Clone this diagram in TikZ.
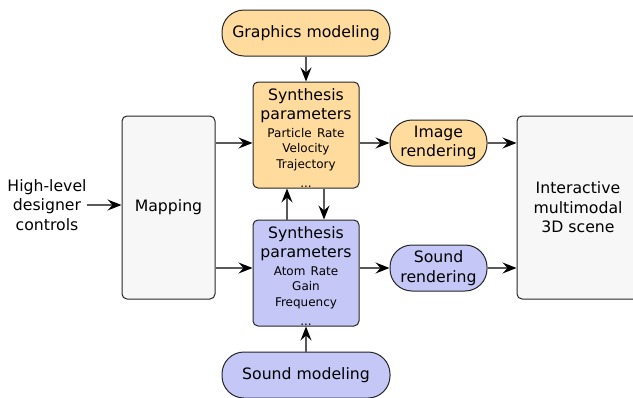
\documentclass[tikz,border=0pt]{standalone}
\usepackage{fontspec}
\setmainfont{DejaVu Sans}
\usetikzlibrary{arrows.meta}
\definecolor{gfxorange}{RGB}{255,219,158}
\definecolor{sndblue}{RGB}{197,199,247}
\definecolor{boxgray}{RGB}{247,247,247}
\newcommand{\bigfont}{\fontsize{15.7}{19.5}\selectfont}
\newcommand{\smallfont}{\fontsize{12}{15.5}\selectfont}

\begin{document}
\begin{tikzpicture}[x=1pt,y=-1pt,
  box/.style={draw=black!85,line width=1pt,rounded corners=5pt,align=center,font=\bigfont,inner sep=0pt},
  pill/.style={box,rounded corners=22pt,minimum height=46},
  synth/.style={box,text width=100,minimum width=106,minimum height=106},
  link/.style={draw=black!65,line width=1.3pt,-{Stealth[length=14pt,width=11pt,inset=5pt,color=black]}}]
%\draw[help lines,step=10] (0,0) grid (633,397);
\useasboundingbox (0,0) rectangle (633,397);

\node[pill,fill=gfxorange,minimum width=168] (gfx) at (306,33) {Graphics modeling};
\node[pill,fill=sndblue,minimum width=168] (sndmod) at (306,375) {Sound modeling};
\node[synth,fill=gfxorange] (synthtop) at (306,135)
  {\rule{0pt}{18pt}Synthesis\\parameters\par\smallfont\vspace{2pt}Particle Rate\\Velocity\\Trajectory\\...};
\node[synth,fill=sndblue] (synthbot) at (306,273)
  {\rule{0pt}{18pt}Synthesis\\parameters\par\smallfont\vspace{2pt}Atom Rate\\Gain\\Frequency\\...};
\node[box,fill=boxgray,minimum width=93,minimum height=183] (map) at (168.5,207.5) {Mapping};
\node[box,fill=boxgray,minimum width=122,minimum height=183] (scene) at (578,207.5) {Interactive\\multimodal\\3D scene};
\node[pill,fill=gfxorange,minimum width=97] (img) at (438.5,143) {Image\\rendering};
\node[pill,fill=sndblue,minimum width=97] (sndr) at (438.5,268) {Sound\\rendering};
\node[align=center,font=\bigfont,inner sep=0pt] (hl) at (47,205) {High-level\\designer\\controls};

\draw[link] (hl.east) -- (hl.east -| map.west);
\draw[link] (gfx) -- (synthtop);
\draw[link] (sndmod) -- (synthbot);
\draw[link] ([xshift=-19pt]synthbot.north) -- ([xshift=-19pt]synthtop.south);
\draw[link] ([xshift=18pt]synthtop.south) -- ([xshift=18pt]synthbot.north);
\foreach \s/\r in {synthtop/img, synthbot/sndr} {
  \draw[link] (map.east |- \r) -- (\s.west |- \r);
  \draw[link] (\s.east |- \r) -- (\r);
  \draw[link] (\r) -- (scene.west |- \r);
}
\end{tikzpicture}
\end{document}
